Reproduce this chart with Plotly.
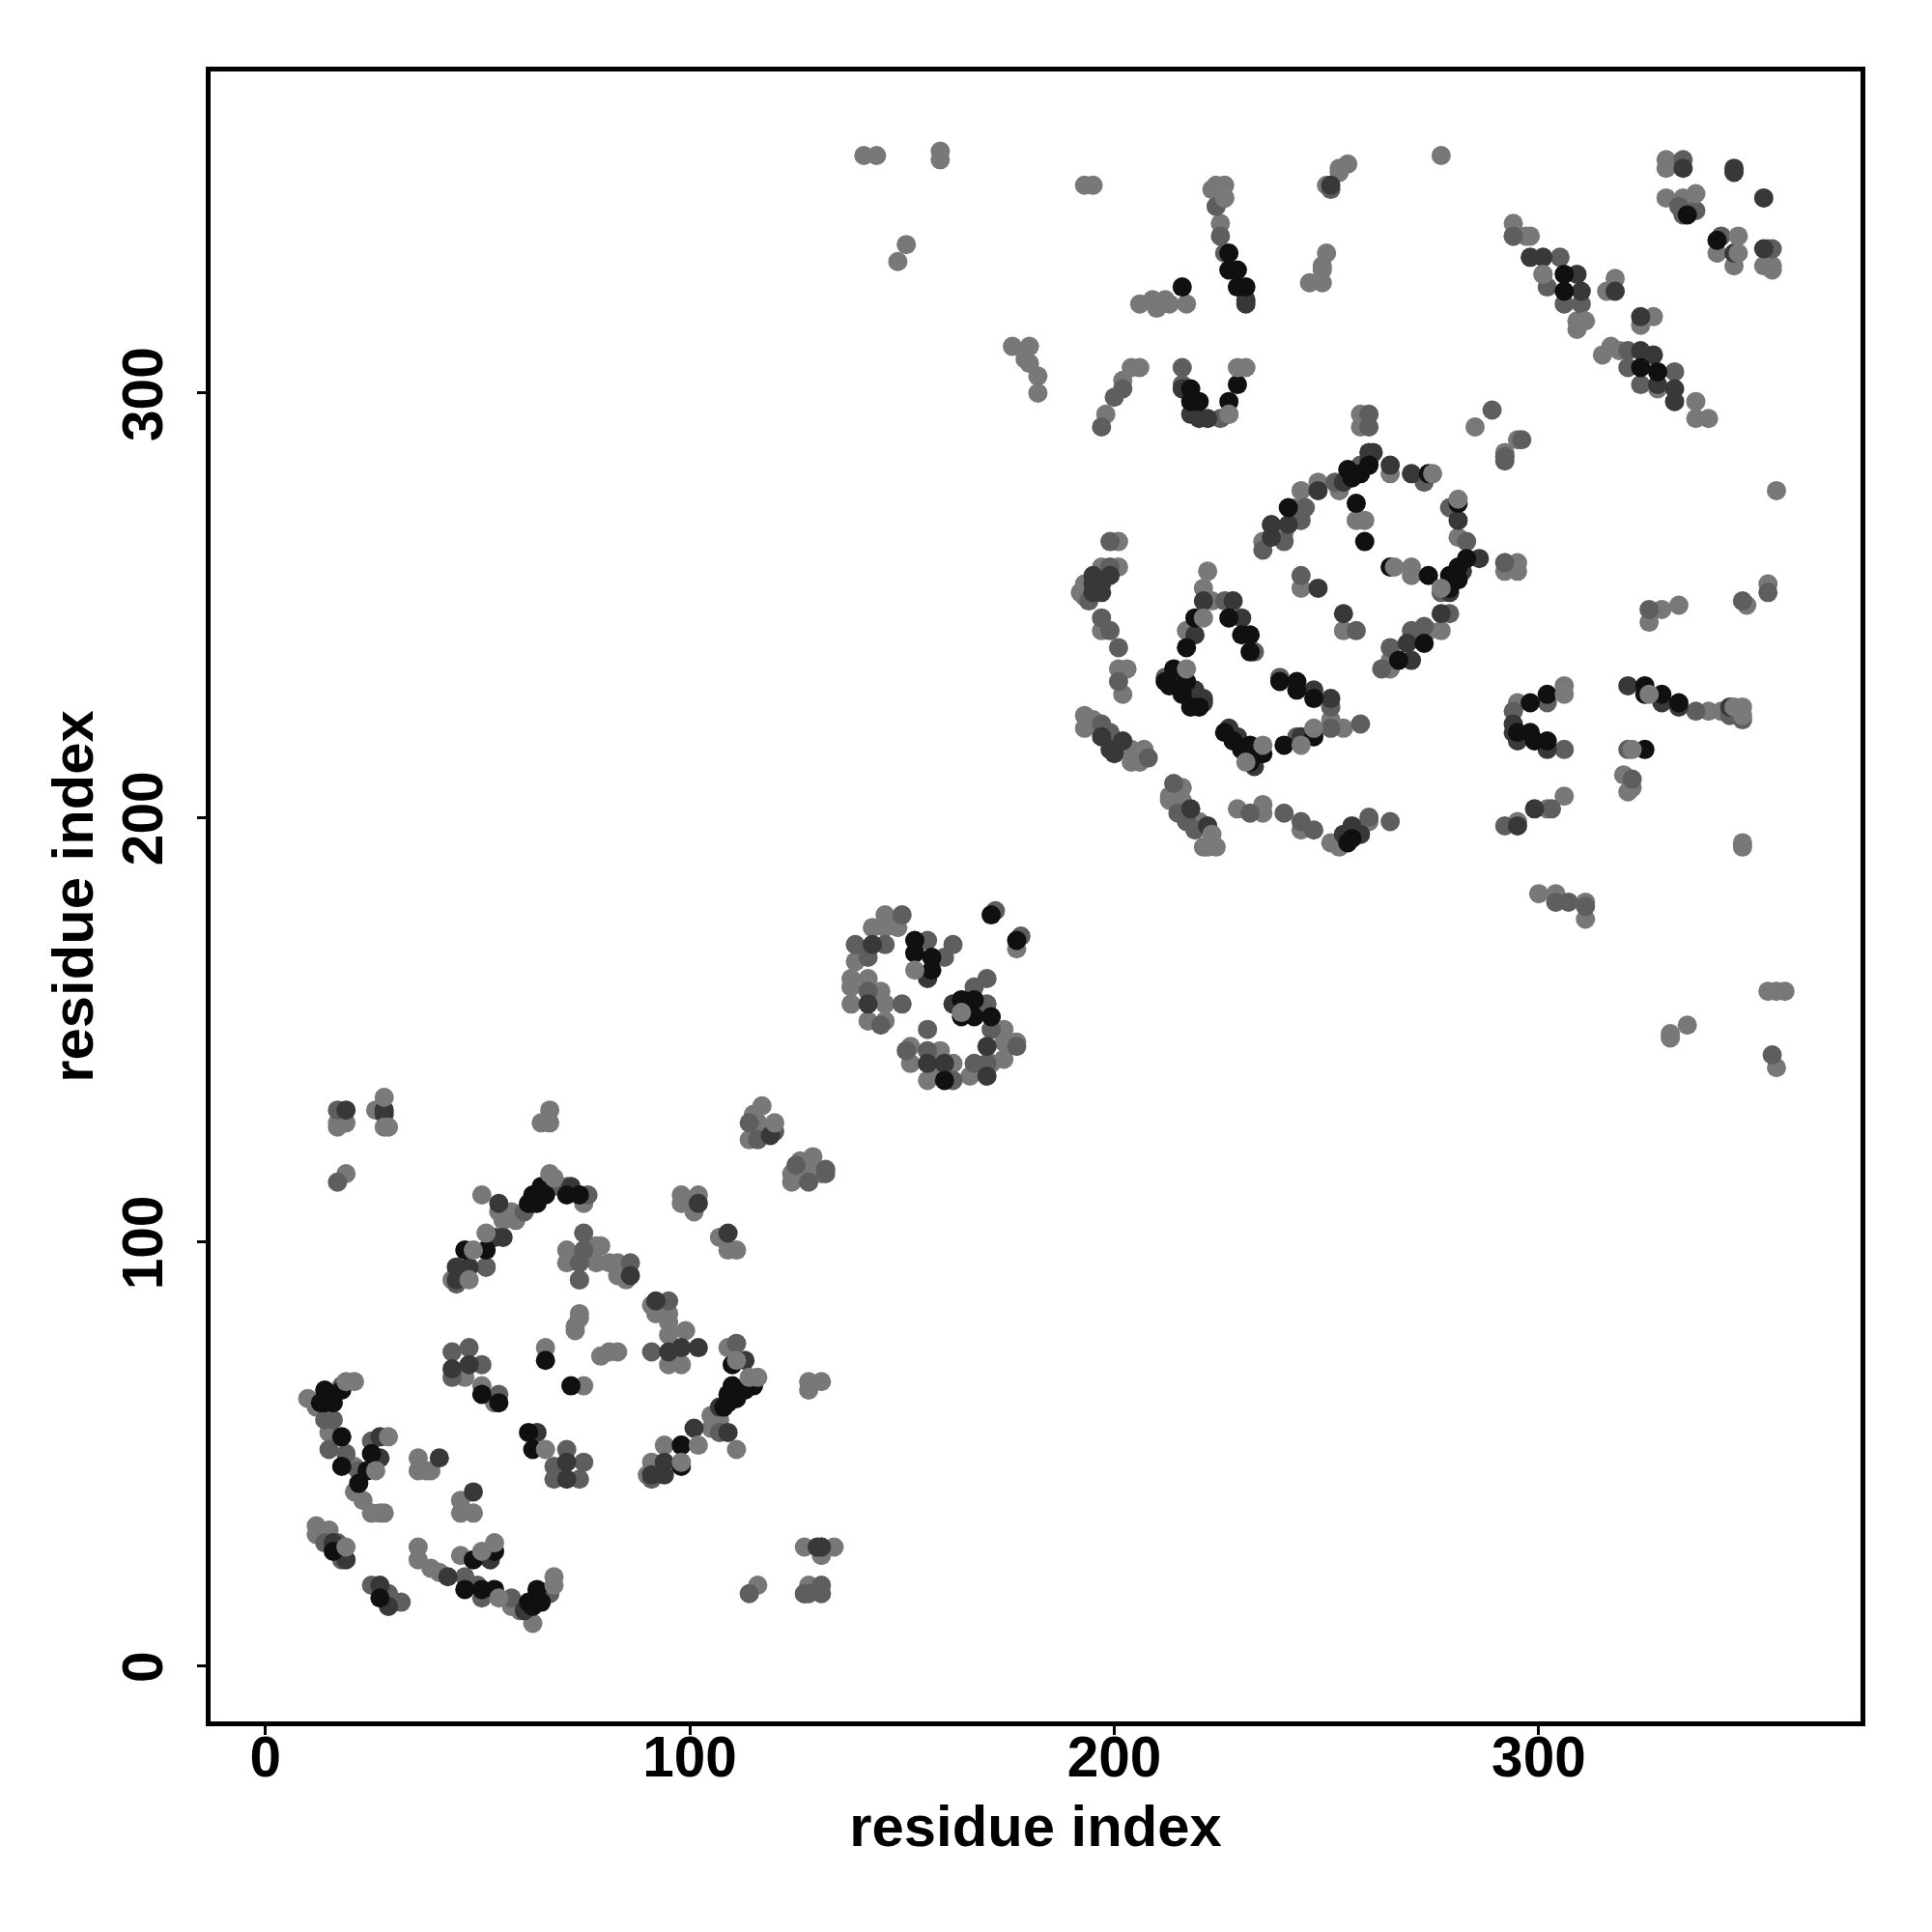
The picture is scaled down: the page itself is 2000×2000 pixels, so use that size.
import plotly.graph_objects as go

# residue contact pairs (i, j), grouped by grey level
light_contacts = [
 (17,128),(17,127),(19,128),(26,131),(65,128),(67,131),(67,128),(19,116),(51,111),(55,107),(56,105),(44,91),(52,94),
 (59,105),(58,107),(71,113),(75,109),(71,98),(78,99),(71,95),(74,91),(78,95),(74,83),(73,80),(74,82),(73,79),(66,75),
 (75,66),(47,68),(51,66),(10,63),(12,61),(15,55),(21,47),(21,41),(23,39),(25,36),(27,36),(28,36),(36,49),(36,46),
 (38,46),(39,46),(46,39),(46,36),(49,36),(12,33),(12,31),(15,32),(36,28),(36,25),(39,23),(41,22),(46,26),(63,10),
 (60,13),(58,14),(54,62),(98,111),(98,109),(102,111),(101,107),(107,101),(109,98),(111,98),(117,132),(115,130),
 (114,124),(116,128),(126,119),(129,120),(124,116),(124,114),(128,116),(129,117),(131,116),(79,99),(81,95),(83,95),
 (83,92),(85,91),(91,85),(92,83),(95,83),(95,81),(95,78),(99,79),(95,71),(98,71),(79,73),(81,74),(83,74),(109,75),
 (128,67),(131,67),(128,65),(105,59),(107,58),(105,56),(111,51),(94,52),(91,48),(90,45),(127,28),(134,28),(131,26),
 (116,19),(128,19),(127,17),
 (146,177),(146,174),(149,174),(143,174),(139,166),(138,162),(138,160),(142,162),(145,159),(138,156),(146,156),
 (142,152),(146,152),(174,147),(177,147),(152,146),(159,145),(152,142),(162,142),(171,142),(174,143),(156,138),
 (159,139),(166,139),(177,169),(174,150),
 (201,265),(201,259),(197,259),(193,255),(192,253),(193,252),(197,244),(201,235),(203,235),(202,229),(193,224),
 (193,221),(195,223),(194,222),(204,216),(207,216),(204,213),(206,213),(222,258),(221,254),(223,251),(217,244),
 (216,207),(213,205),(216,204),(213,204),(220,199),(221,193),(222,193),(229,202),(235,203),(235,201),(244,197),
 (251,223),(254,221),(251,194),(253,193),(260,199),(235,265),(240,267),(243,273),(244,277),(248,279),(253,277),
 (257,270),(259,270),(265,281),(281,266),(270,259),(270,257),(244,254),(254,244),(277,244),(274,244),(265,237),
 (265,235),(258,292),(285,292),(292,286),(292,285),(295,289),(292,258),(295,258),(295,260),(329,249),(333,250),
 (326,246),(354,255),(349,250),(306,231),(295,227),(340,225),(343,225),(320,210),(321,206),(322,207),(306,205),
 (302,202),(295,199),(348,193),(348,194),(300,182),(304,182),(311,180),(311,176),
 (141,356),(144,356),(159,357),(159,355),(149,331),(193,349),(195,349),(176,311),(180,311),(179,308),(180,307),(182,304),
 (182,300),(198,295),(202,303),(204,306),(206,306),(206,321),(209,322),(212,322),(213,321),(217,321),(210,320),
 (227,295),(226,349),(224,349),(223,348),(226,346),(225,340),(253,353),(255,354),(253,352),(250,349),(250,333),
 (249,330),(249,329),(246,326),(249,326),(277,356),(294,340),(297,337),(258,295),(330,355),(330,353),
 (332,354),(330,346),(334,346),(342,333),(346,330),(353,330),(355,330),(355,329),(354,334),(294,337),(298,337),
 (301,328),(309,315),(309,317),(318,327),(316,324),(327,318),(324,316),(315,309),(317,311),(319,310),(328,301),
 (337,298),(337,294),(340,294),(356,277),(356,159),(354,159),(358,159),(356,141),(331,148),(331,149),(335,151),
 (151,335),(292,260),
]
mid_contacts = [
 (17,131),(17,114),(45,90),(61,107),(68,113),(76,111),(75,102),(75,98),(74,95),(74,91),(44,74),(48,75),(44,68),(51,71),
 (55,64),(14,58),(16,58),(15,51),(19,50),(22,46),(18,66),(25,53),(17,29),(14,29),(18,25),(47,21),(50,19),(51,16),(58,16),
 (67,17),(25,19),(29,17),(32,15),(71,51),(68,47),(75,48),(68,44),(74,44),(52,94),(86,95),(95,86),(91,74),(114,128),
 (120,126),(116,124),(125,118),(128,114),(132,117),(132,116),(111,76),(131,28),(114,17),(131,19),(127,17),(131,17),
 (128,17),(107,55),(91,44),(98,52),(172,178),(178,172),(139,170),(146,170),(142,167),(142,159),(150,177),(150,156),
 (145,151),(156,171),(162,170),(160,167),(170,162),(167,160),(170,156),(171,150),(156,150),(151,145),(156,145),
 (167,142),(170,142),(162,138),(177,146),
 (199,265),(199,259),(194,251),(197,247),(199,244),(201,240),(201,232),(197,222),(199,220),(208,214),(226,251),(212,233),
 (233,239),(239,233),(251,226),(251,221),(258,222),(243,219),(214,208),(215,201),(217,199),(219,197),(232,201),(240,201),
 (244,199),(247,197),(265,199),(260,200),(235,263),(240,265),(244,270),(245,273),(252,279),(258,283),(273,279),(279,273),
 (283,265),(277,253),(244,257),(257,244),(279,248),(273,245),(270,244),(265,240),(263,235),(292,285),(292,260),
 (348,251),(354,253),(326,249),(302,227),(294,225),(306,216),(337,225),(345,224),(348,223),(321,216),(322,209),(303,202),
 (292,198),(304,180),(307,180),(311,179),(216,306),(200,299),(202,301),(197,292),(216,302),(224,344),(225,337),
 (226,333),(251,348),(294,337),(289,296),(296,289),(292,284),(260,295),(260,292),(334,355),(333,344),(337,343),(334,342),
 (343,337),(355,334),(305,332),(302,325),(306,321),(310,321),(321,310),(321,306),(332,305),(324,302),(355,144),
 (225,294),
]
dark_contacts = [
 (19,131),(28,131),(28,130),(45,91),(45,94),(48,94),(56,101),(54,101),(72,113),(44,70),(48,71),(55,109),
 (27,54),(27,49),(41,49),(49,41),(16,29),(19,25),(64,55),(71,48),(71,44),(53,25),(61,13),(27,19),(29,14),
 (43,21),(92,86),(95,74),(98,75),(102,75),(86,92),(102,109),(109,102),(113,72),(119,125),(131,28),(130,28),(109,55),
 (101,56),(94,48),(94,45),(91,45),(107,61),
 (143,170),(142,156),(156,162),(170,146),(156,142),(160,142),(170,139),(162,156),
 (195,257),(199,257),(197,255),(195,255),(197,253),(195,253),(197,219),(199,216),(202,218),(200,215),(221,251),(228,251),
 (230,247),(219,243),(214,232),(219,230),(221,228),(221,227),(247,230),(251,228),(244,219),(227,221),(229,219),(232,215),
 (233,212),(218,202),(222,198),(254,196),(256,198),(258,196),(237,269),(237,266),(241,269),(248,277),(254,279),(261,286),
 (260,284),(265,283),(270,281),(281,270),(286,261),(282,258),(279,253),(248,254),(254,248),(277,248),(269,241),(270,237),
 (294,222),(294,220),(295,218),(302,216),(299,202),(295,198),(321,231),(329,227),(333,226),(345,226),
 (216,301),(218,295),(220,294),(222,294),(231,322),(231,321),(251,349),(260,286),(334,353),(346,353),(346,352),(353,346),
 (346,333),(353,334),(298,332),(301,332),(309,328),(310,324),(318,324),(324,318),(324,310),(327,309),(332,301),(332,298),
 (328,302),
]
black_contacts = [
 (63,109),(62,109),(63,111),(64,109),(65,113),(66,111),(74,111),(71,111),(47,98),(52,98),(66,72),(72,66),(13,62),(14,65),
 (16,64),(18,65),(14,62),(16,62),(18,54),(18,47),(22,43),(25,50),(24,46),(51,64),(55,62),(62,55),(63,51),(16,27),(54,27),
 (49,25),(47,18),(51,18),(54,18),(62,15),(63,14),(64,18),(65,15),(27,16),(110,71),(115,66),(113,65),(110,66),(109,64),
 (111,63),(109,62),(108,61),(98,52),(98,47),
 (171,177),(177,171),(153,171),(153,168),(157,167),(157,164),(164,157),(167,157),(167,153),(171,153),(164,153),
 (160,138),
 (219,247),(227,247),(230,243),(232,243),(217,240),(232,239),(214,235),(212,232),(217,232),(213,231),(216,229),(218,226),
 (220,226),(239,232),(243,232),(243,230),(247,228),(247,219),(240,217),(226,220),(228,218),(232,217),(230,216),(235,215),
 (232,213),(256,195),(255,194),(241,273),(255,282),(256,280),(258,281),(260,283),(257,274),(259,265),(274,281),(281,274),
 (283,261),(281,259),(279,257),(281,256),(279,254),(265,259),(274,257),(273,241),(267,237),
 (302,229),(298,227),(295,220),(298,220),(299,218),(302,218),(325,231),(325,229),(329,229),(333,227),(325,216),
 (216,325),(218,301),(218,298),(220,298),(227,298),(229,302),(227,333),(227,329),(229,329),(229,325),(231,325),(335,342),
 (342,336),(306,328),(306,324),(324,306),(328,305),
]
top_light_contacts = [
 (49,98),(52,102),(67,116),(68,115),(19,67),(21,67),(29,54),(26,46),(54,29),(51,27),(68,21),(68,19),(19,28),(55,16),
 (66,51),(48,91),(28,134),(28,127),(29,127),(98,48),(102,52),(116,68),(114,68),(111,72),(120,128),(153,164),(164,154),
 (217,235),(221,247),(235,217),(244,217),(247,221),(231,213),(223,196),(224,193),(277,254),(266,259),(275,281),(281,275),
 (326,229),(348,226),(348,224),(346,226),(322,216),(311,317),(337,347),(347,337),(347,333),(306,229),(229,306),(231,306),
 (227,295),(226,346),(301,328),
]
x_ticks = [0, 100, 200, 300]
y_ticks = [0, 100, 200, 300]
axis_label = "residue index"

layers = [
    (light_contacts, "#787878"),
    (mid_contacts, "#5e5e5e"),
    (dark_contacts, "#383838"),
    (black_contacts, "#101010"),
    (top_light_contacts, "#7a7a7a"),
]

fig = go.Figure()
for pts, col in layers:
    fig.add_trace(go.Scatter(x=[p[0] for p in pts], y=[p[1] for p in pts], mode="markers",
                             marker=dict(size=20, color=col, line=dict(width=0)),
                             showlegend=False, cliponaxis=True))

font = "Liberation Sans"
axis = dict(showgrid=False, zeroline=False, showline=True, linecolor="black", linewidth=5, mirror=True,
            ticks="outside", ticklen=9, tickwidth=3, tickcolor="black",
            tickfont=dict(family=font, size=58.5, color="black", weight="bold"),
            title=dict(text=axis_label, font=dict(family=font, size=59.8, color="black", weight="bold")))
fig.update_layout(width=2000, height=2000, autosize=False, paper_bgcolor="white", plot_bgcolor="white",
                  margin=dict(l=218, r=74, t=74, b=218),
                  xaxis=dict(axis, range=[-12.9, 375.8], tickvals=x_ticks, ticklabelstandoff=-27),
                  yaxis=dict(axis, range=[-13.1, 375.8], tickvals=y_ticks, tickangle=-90,
                             ticklabelstandoff=13, ticklabelshift=10))
fig.update_xaxes(title_standoff=20)
fig.update_yaxes(title_standoff=0)
fig.write_html("out.html", post_script="document.body.style.margin='0';", config={"displayModeBar": False})
